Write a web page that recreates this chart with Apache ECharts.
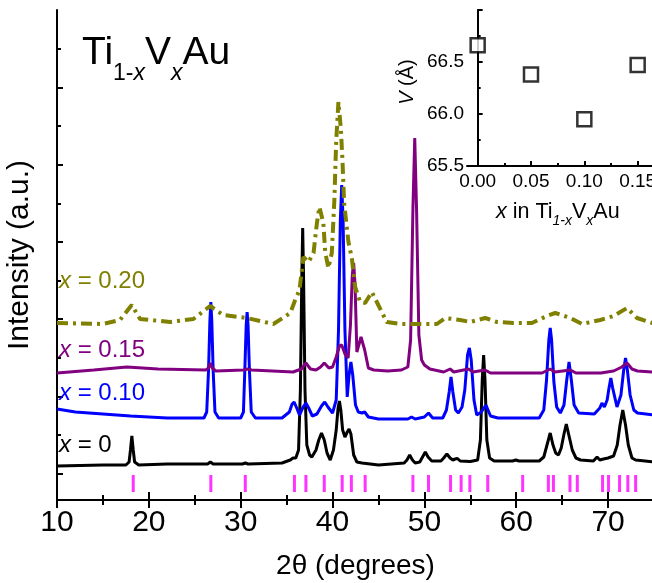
<!DOCTYPE html>
<html>
<head>
<meta charset="utf-8">
<script src="https://cdn.jsdelivr.net/npm/echarts@6/dist/echarts.min.js"></script>
<style>
  html, body { margin: 0; padding: 0; background: #fff; }
  #chart { width: 652px; height: 583px; }
</style>
</head>
<body>
<div id="chart"></div>
<script>
  // XRD 图谱数据 [2θ, 强度(a.u.，含偏移)]
  const pattern0 = [
    [10, 34], [15, 35], [17.5, 35], [17.85, 38], [18.0, 50], [18.15, 64], [18.3, 50], [18.45, 38], [18.9, 35],
    [22, 36], [26.4, 36], [26.7, 38], [27.0, 36], [30.2, 36], [30.5, 37], [30.8, 36], [34.5, 37],
    [35.4, 40], [35.7, 42], [36.0, 42], [36.3, 50], [36.5, 110], [36.65, 220], [36.75, 272], [36.85, 220],
    [37.0, 110], [37.2, 55], [37.5, 45], [37.75, 43], [38.2, 50], [38.5, 60], [38.8, 67], [39.1, 60],
    [39.4, 47], [39.75, 40], [40.1, 50], [40.4, 70], [40.6, 92], [40.75, 99], [40.9, 90], [41.1, 70],
    [41.35, 63], [41.6, 68], [41.8, 71], [42.0, 66], [42.3, 45], [42.65, 38], [43.2, 37], [45, 35],
    [47.8, 37], [48.1, 40], [48.4, 45], [48.7, 40], [49.0, 37], [49.5, 38], [49.8, 43], [50.1, 48],
    [50.4, 43], [50.8, 39], [51.8, 39], [52.1, 42], [52.45, 46], [52.8, 42], [53.1, 40], [53.35, 41],
    [53.6, 41.5], [53.9, 39], [55, 38.5], [55.8, 40], [56.1, 60], [56.3, 120], [56.45, 145], [56.6, 120],
    [56.8, 60], [57.1, 42], [57.6, 39], [59.6, 39], [59.95, 40], [60.3, 39], [62.5, 39], [63.0, 43],
    [63.35, 55], [63.7, 67], [64.0, 55], [64.3, 47], [64.6, 45], [64.9, 52], [65.2, 66], [65.45, 76],
    [65.7, 66], [66.1, 50], [66.5, 42], [67, 40], [68.4, 39], [68.8, 43], [69.1, 40], [69.5, 41],
    [70.0, 42], [70.6, 44], [71.0, 55], [71.3, 75], [71.6, 90], [71.9, 75], [72.2, 55], [72.6, 42],
    [73, 40], [75, 38]
  ];
  const pattern10 = [
    [10, 91], [12, 88], [15, 86], [18, 84], [22, 82], [26.0, 82], [26.3, 88], [26.5, 130], [26.65, 180],
    [26.75, 198], [26.85, 180], [27.0, 130], [27.2, 88], [27.6, 82], [30.0, 82], [30.3, 88], [30.45, 130],
    [30.6, 175], [30.7, 188], [30.8, 175], [30.95, 130], [31.15, 88], [31.6, 82], [34.5, 82], [35.3, 88],
    [35.6, 96], [35.82, 98], [36.1, 92], [36.4, 85], [36.8, 93], [37.1, 97], [37.4, 92], [37.8, 84],
    [38.3, 86], [38.8, 94], [39.15, 98], [39.5, 93], [40.0, 87], [40.4, 100], [40.65, 170], [40.85, 280],
    [41.0, 315], [41.15, 280], [41.35, 170], [41.6, 103], [41.8, 125], [42.0, 138], [42.2, 125],
    [42.5, 95], [42.8, 88], [43.2, 87], [43.5, 88], [43.9, 83], [45, 81], [48.2, 81], [48.6, 83],
    [49.0, 81], [50.0, 83], [50.45, 87], [50.9, 82], [52.0, 82], [52.4, 90], [52.7, 108], [52.9, 123],
    [53.1, 108], [53.4, 90], [53.7, 87], [54.1, 93], [54.4, 110], [54.7, 145], [54.9, 152], [55.1, 140],
    [55.4, 100], [55.7, 85], [56.2, 88], [56.7, 95], [57.2, 84], [58, 82], [62.5, 82], [63.0, 90],
    [63.3, 120], [63.55, 160], [63.7, 172], [63.85, 160], [64.1, 118], [64.4, 93], [64.8, 87], [65.2, 95],
    [65.5, 120], [65.75, 138], [66.0, 120], [66.3, 95], [66.8, 87], [68.5, 86], [69.1, 92], [69.33, 97],
    [69.6, 93], [69.9, 100], [70.1, 112], [70.3, 122], [70.5, 112], [70.97, 93], [71.4, 105], [71.7, 130],
    [71.9, 142], [72.1, 130], [72.4, 105], [72.8, 90], [73.2, 87], [75, 85]
  ];
  const pattern15 = [
    [10, 127], [14, 130], [17.6, 133], [21, 131], [26.2, 130], [26.5, 132], [26.7, 137], [26.9, 132],
    [27.3, 129], [30.3, 130], [30.75, 131], [31.2, 130], [35.7, 128], [36.6, 131], [37.1, 137], [37.6, 131],
    [38.2, 130], [38.7, 133], [39.1, 137], [39.6, 132], [40.0, 133], [40.4, 143], [40.75, 154], [41.0, 155],
    [41.35, 146], [41.7, 142], [41.95, 175], [42.15, 225], [42.3, 237], [42.45, 215], [42.65, 148],
    [42.85, 150], [43.1, 163], [43.25, 165], [43.5, 150], [43.9, 132], [44.5, 130], [46, 129], [47.5, 130],
    [48.2, 133], [48.5, 160], [48.75, 290], [48.95, 362], [49.15, 290], [49.4, 165], [49.7, 140], [50.0, 135],
    [50.6, 131], [52.1, 128], [52.8, 131], [53.2, 128], [54.8, 131], [55.3, 128], [56.6, 130], [57.2, 127],
    [62.8, 127], [63.7, 131], [64.2, 128], [65.9, 130], [66.5, 127], [69.2, 127], [70.6, 129], [71.5, 133],
    [72.06, 137], [72.6, 131], [73.2, 129], [75, 128]
  ];
  const pattern20 = [
    [10, 177], [15.0, 176], [16.86, 180], [18.14, 195], [19.04, 181], [22.3, 178], [24.85, 181], [26.67, 194],
    [28.1, 185], [30.66, 182], [33.56, 176], [35.4, 187], [35.93, 200], [36.4, 210], [36.83, 243], [37.38, 238],
    [37.93, 247], [38.3, 277], [38.57, 293], [39.0, 277], [39.2, 248], [39.55, 232], [39.92, 247], [40.2, 300],
    [40.39, 357], [40.64, 398], [40.9, 372], [41.08, 340], [41.26, 297], [41.73, 258], [42.1, 242], [42.46, 213],
    [43.0, 198], [43.55, 197], [44.28, 208], [44.82, 198], [45.9, 178], [47.36, 176], [51.36, 176], [52.27, 182],
    [53.9, 180], [54.99, 178], [56.62, 182], [57.9, 178], [59.7, 177], [61.7, 177], [63.34, 184], [64.25, 187],
    [65.88, 182], [67.16, 176], [69.15, 180], [70.6, 184], [72.06, 192], [73.15, 182], [74.82, 177], [75, 177]
  ];
  // 布拉格峰位置
  const braggPos = [18.3, 26.75, 30.5, 35.85, 37.1, 39.1, 41.05, 42.05, 43.55, 48.75, 50.45, 52.85, 54.0,
    54.95, 56.9, 60.7, 63.5, 64.05, 65.85, 66.65, 69.4, 70.05, 71.25, 72.15, 73.0];
  // 插图：晶胞体积
  const insetX = [0, 0.05, 0.10, 0.15];
  const insetV = [66.66, 66.38, 65.95, 66.47];
  const mainYMajor = [26.4, 103.6, 180.8, 258, 335.2, 412.4];
  const mainYMinor = [65, 142.2, 219.4, 296.6, 373.8, 451];
  const insetXTicks = [0, 0.05, 0.10, 0.15];
  const insetXMinor = [0.025, 0.075, 0.125];

  const FONT = 'Liberation Sans, Arial, sans-serif';
  const chart = echarts.init(document.getElementById('chart'), null, { renderer: 'canvas' });

  const axisLineStyle = { color: '#000', width: 2 };

  // 用 canvas 量字宽，把上下标片段依次排开
  const measureCtx = document.createElement('canvas').getContext('2d');
  function chain(parts, x0, yMain) {
    let x = x0;
    return parts.map(function (p) {
      const font = (p.italic ? 'italic ' : '') + p.size + 'px ' + FONT;
      measureCtx.font = font;
      const el = {
        type: 'text', x: x, y: yMain + (p.dy || 0), z: 100,
        style: { text: p.t, fill: '#000', font: font, verticalAlign: 'middle', align: 'left' }
      };
      x += measureCtx.measureText(p.t).width;
      return el;
    });
  }
  function curveLabel(val, y, color) {
    return {
      type: 'text', x: 59, y: y, z: 100,
      style: {
        text: '{i|x}{n| = ' + val + '}',
        verticalAlign: 'middle', align: 'left',
        rich: {
          i: { fontSize: 24, fontStyle: 'italic', fontFamily: FONT, fill: color, color: color },
          n: { fontSize: 24, fontFamily: FONT, fill: color, color: color }
        }
      }
    };
  }

  const titleParts = chain([
    { t: 'Ti', size: 39 }, { t: '1-', size: 23, dy: 20 }, { t: 'x', size: 23, dy: 20, italic: true },
    { t: 'V', size: 39 }, { t: 'x', size: 23, dy: 20, italic: true }, { t: 'Au', size: 39 }
  ], 82, 53.5);
  const insetNameParts = chain([
    { t: 'x', size: 21.5, italic: true }, { t: ' in Ti', size: 21.5 },
    { t: '1-x', size: 14, dy: 9, italic: true }, { t: 'V', size: 21.5 },
    { t: 'x', size: 14, dy: 9, italic: true }, { t: 'Au', size: 21.5 }
  ], 496, 212);

  const option = {
    animation: false,
    backgroundColor: '#fff',
    grid: [
      { left: 57, top: 10, width: 597, height: 490, containLabel: false, outerBoundsMode: 'none' },
      { left: 467, top: 10, width: 192, height: 156, containLabel: false, outerBoundsMode: 'none' }
    ],
    xAxis: [
      {
        type: 'value', gridIndex: 0, position: 'bottom', min: 10, max: 75, interval: 10,
        axisLine: { lineStyle: axisLineStyle },
        axisTick: { inside: true, length: 8, lineStyle: axisLineStyle },
        minorTick: { show: true, splitNumber: 2, length: 5, lineStyle: axisLineStyle },
        splitLine: { show: false },
        axisLabel: { fontSize: 30, color: '#000', fontFamily: FONT, margin: 8, showMaxLabel: false },
        name: '2θ (degrees)', nameLocation: 'middle', nameGap: 52,
        nameTextStyle: { fontSize: 28, color: '#000', fontFamily: FONT }
      },
      {
        type: 'value', gridIndex: 0, position: 'top', min: 10, max: 75, interval: 10,
        axisLine: { lineStyle: axisLineStyle },
        axisTick: { inside: true, length: 8, lineStyle: axisLineStyle },
        minorTick: { show: true, splitNumber: 2, length: 5, lineStyle: axisLineStyle },
        splitLine: { show: false },
        axisLabel: { show: false }
      },
      {
        type: 'value', gridIndex: 1, position: 'bottom', min: -0.01, max: 0.17,
        axisLine: { lineStyle: axisLineStyle },
        axisTick: { inside: true, length: 5, lineStyle: axisLineStyle, customValues: insetXTicks },
        splitLine: { show: false },
        axisLabel: {
          fontSize: 19, color: '#000', fontFamily: FONT, margin: 6, customValues: insetXTicks,
          formatter: function (v) { return v.toFixed(2); }
        }
      },
      {
        type: 'value', gridIndex: 1, position: 'bottom', min: -0.01, max: 0.17,
        axisLine: { show: false },
        axisTick: { show: true, inside: true, length: 3, lineStyle: axisLineStyle, customValues: insetXMinor },
        splitLine: { show: false },
        axisLabel: { show: false }
      }
    ],
    yAxis: [
      {
        type: 'value', gridIndex: 0, position: 'left', min: 0, max: 490,
        axisLine: { show: true, lineStyle: axisLineStyle },
        axisTick: { inside: true, length: 6, lineStyle: axisLineStyle, customValues: mainYMajor },
        splitLine: { show: false },
        axisLabel: { show: false },
        name: 'Intensity (a.u.)', nameLocation: 'middle', nameGap: 22,
        nameTextStyle: { fontSize: 30, color: '#000', fontFamily: FONT }
      },
      {
        type: 'value', gridIndex: 0, position: 'left', min: 0, max: 490,
        axisLine: { show: false },
        axisTick: { show: true, inside: true, length: 4, lineStyle: axisLineStyle, customValues: mainYMinor },
        splitLine: { show: false },
        axisLabel: { show: false }
      },
      {
        type: 'value', gridIndex: 1, position: 'left', min: 65.5, max: 67.0, interval: 0.5,
        axisLine: { show: true, lineStyle: axisLineStyle },
        axisTick: { inside: true, length: 5, lineStyle: axisLineStyle },
        minorTick: { show: true, splitNumber: 2, length: 3, lineStyle: axisLineStyle },
        splitLine: { show: false },
        axisLabel: {
          fontSize: 19, color: '#000', fontFamily: FONT, margin: 3, showMaxLabel: false,
          formatter: function (v) { return v.toFixed(1); }
        }
      }
    ],
    series: [
      {
        type: 'line', name: 'x=0', xAxisIndex: 0, yAxisIndex: 0, data: pattern0,
        showSymbol: false, z: 2, lineStyle: { color: '#000', width: 3 }
      },
      {
        type: 'line', name: 'x=0.10', xAxisIndex: 0, yAxisIndex: 0, data: pattern10,
        showSymbol: false, z: 3, lineStyle: { color: '#0000ff', width: 3 }
      },
      {
        type: 'line', name: 'x=0.15', xAxisIndex: 0, yAxisIndex: 0, data: pattern15,
        showSymbol: false, z: 4, lineStyle: { color: '#800080', width: 3 }
      },
      {
        type: 'line', name: 'x=0.20', xAxisIndex: 0, yAxisIndex: 0, data: pattern20,
        showSymbol: false, z: 5, lineStyle: { color: '#808000', width: 4, type: [11, 5, 3, 5] }
      },
      {
        type: 'scatter', name: 'bragg', xAxisIndex: 0, yAxisIndex: 0,
        data: braggPos.map(function (p) { return [p, 16.5]; }),
        symbol: 'rect', symbolSize: [3, 17], itemStyle: { color: '#ff00ff' }, z: 6
      },
      {
        type: 'scatter', name: 'V', xAxisIndex: 2, yAxisIndex: 2,
        data: insetX.map(function (x, i) { return [x, insetV[i]]; }),
        symbol: 'rect', symbolSize: 14,
        itemStyle: { color: '#fff', borderColor: '#000', borderWidth: 2.5 }, z: 10
      }
    ],
    graphic: titleParts.concat(insetNameParts, [
      // 曲线标注
      curveLabel('0.20', 281, '#808000'),
      curveLabel('0.15', 350, '#800080'),
      curveLabel('0.10', 393, '#0000ff'),
      curveLabel('0', 445, '#000'),
      {
        type: 'text', x: 407, y: 82, rotation: Math.PI / 2, z: 100,
        style: {
          text: '{i|V}{n| (Å)}', align: 'center', verticalAlign: 'middle',
          rich: {
            i: { fontSize: 20, fontStyle: 'italic', fontFamily: FONT },
            n: { fontSize: 20, fontFamily: FONT }
          }
        }
      }
    ])
  };
  chart.setOption(option);
</script>
</body>
</html>
